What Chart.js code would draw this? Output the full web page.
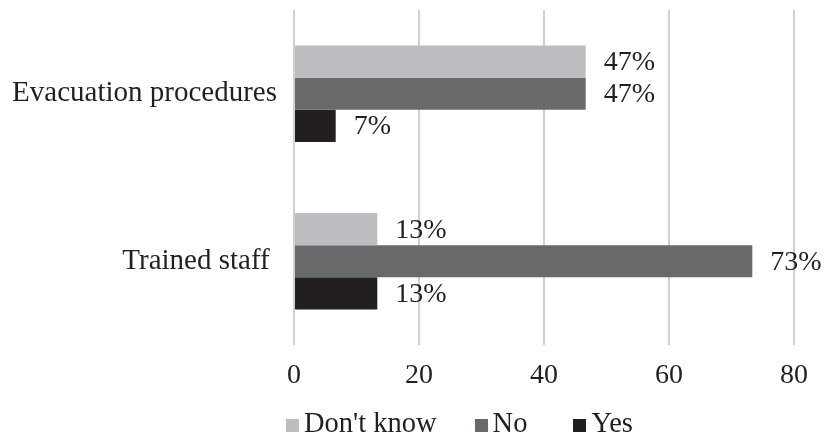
<!DOCTYPE html>
<html>
<head>
<meta charset="utf-8">
<script src="https://cdn.jsdelivr.net/npm/chart.js@4/dist/chart.umd.min.js"></script>
<style>
    body { margin: 0; background: #fff; }
    #wrap { position: relative; width: 824px; height: 439px; }
    #legend {
        position: absolute; left: 286px; top: 408px;
        display: flex; align-items: center;
        font-family: 'Liberation Serif', 'Times New Roman', serif;
        font-size: 28.5px; color: #231f20; line-height: 30px;
    }
    .item { display: flex; align-items: center; }
    .box { width: 13px; height: 13px; margin-right: 5px; margin-top: 4px; }
</style>
</head>
<body>
<div id="wrap">
    <canvas id="chart" width="824" height="439"></canvas>
    <div id="legend"></div>
</div>
<script>
const categories = ['Evacuation procedures', 'Trained staff '];
const series_names = ["Don't know", 'No', 'Yes'];
const dont_know = [46.67, 13.33];
const no_values = [46.67, 73.33];
const yes_values = [6.67, 13.33];
const x_ticks = [0, 20, 40, 60, 80];

function get_colors() {
    return ['#bcbdc0', '#68696b', '#231f20'];
}

const font_family = "'Liberation Serif', 'Times New Roman', serif";
const text_color = '#231f20';
const legend_gaps = ['38px', '46px', '0px'];

const valueLabels = {
    id: 'valueLabels',
    afterDatasetsDraw(chart) {
        const ctx = chart.ctx;
        ctx.save();
        ctx.font = '28px ' + font_family;
        ctx.fillStyle = text_color;
        ctx.textAlign = 'left';
        ctx.textBaseline = 'middle';
        chart.data.datasets.forEach((ds, i) => {
            const meta = chart.getDatasetMeta(i);
            meta.data.forEach((bar, j) => {
                ctx.fillText(Math.round(ds.data[j]) + '%', bar.x + 18, bar.y + 1);
            });
        });
        ctx.restore();
    }
};

function print_bar_chart(id) {
    const ctx = document.getElementById(id);
    const colors = get_colors();
    const values = [dont_know, no_values, yes_values];

    const ds = [];
    for (let i = 0; i < series_names.length; i++) {
        ds.push({
            label: series_names[i],
            data: values[i],
            backgroundColor: colors[i],
            borderWidth: 0,
            barPercentage: 1,
            categoryPercentage: 0.575
        });
    }

    new Chart(ctx, {
        type: 'bar',
        data: { labels: categories, datasets: ds },
        options: {
            indexAxis: 'y',
            responsive: false,
            animation: false,
            layout: { padding: { top: 10, right: 30, left: 0, bottom: 0 } },
            plugins: {
                legend: { display: false },
                tooltip: { enabled: false }
            },
            scales: {
                x: {
                    min: 0,
                    max: 80,
                    afterBuildTicks: (scale) => { scale.ticks = x_ticks.map(v => ({ value: v })); },
                    grid: { color: '#d0d0d0', lineWidth: 2, drawTicks: false },
                    border: { display: false },
                    ticks: {
                        padding: 14,
                        color: text_color,
                        font: { family: font_family, size: 28 }
                    },
                    afterFit: (scale) => { scale.height = 94; }
                },
                y: {
                    grid: { display: false },
                    border: { display: false },
                    ticks: {
                        padding: 9,
                        color: text_color,
                        font: { family: font_family, size: 29 }
                    },
                    afterFit: (scale) => {
                        scale.width = 294;
                        scale.paddingTop = 0;
                        scale.paddingBottom = 0;
                    }
                }
            }
        },
        plugins: [valueLabels]
    });

    // legend as html below the plot
    const legend = document.getElementById('legend');
    series_names.forEach((name, i) => {
        const item = document.createElement('div');
        item.className = 'item';
        item.style.marginRight = legend_gaps[i];
        const box = document.createElement('span');
        box.className = 'box';
        box.style.background = colors[i];
        const txt = document.createElement('span');
        txt.textContent = name;
        item.appendChild(box);
        item.appendChild(txt);
        legend.appendChild(item);
    });
}

print_bar_chart('chart');
</script>
</body>
</html>
